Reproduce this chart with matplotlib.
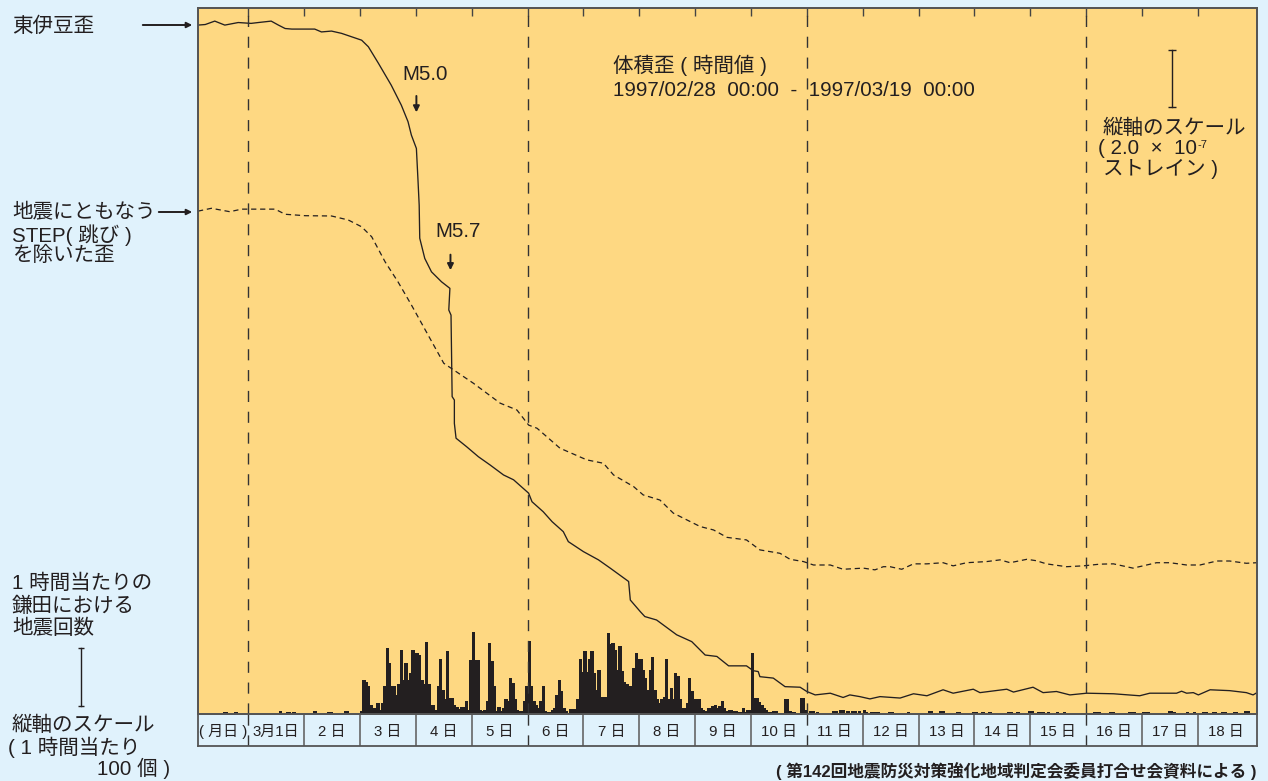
import numpy as np
import matplotlib
matplotlib.use("Agg")
import matplotlib.pyplot as plt
from matplotlib import transforms

plt.rcParams['font.family'] = ['Liberation Sans', 'Noto Sans CJK JP', 'DejaVu Sans']

W, H = 1268, 781
BG = '#e0f2fc'
PLOT_BG = '#fed882'
INK = '#231f20'
FRAME = '#555555'
FS = 14.8

# time axis: days since 1997/02/28 00:00, strain in units of 1e-7
izu_day = [0.10, 0.23, 0.40, 0.58, 0.82, 1.05, 1.18, 1.41, 1.54, 1.66, 1.78, 2.19,
           2.31, 2.49, 2.67, 2.85, 3.03, 3.15, 3.33, 3.56, 3.74, 3.86, 3.92, 4.01,
           4.04, 4.06, 4.07, 4.16, 4.28, 4.46, 4.61, 4.59, 4.63, 4.65, 4.69, 4.69,
           4.72, 4.91, 5.12, 5.33, 5.57, 5.75, 6.02, 6.08, 6.28, 6.44, 6.64, 6.73,
           7.00, 7.27, 7.48, 7.81, 7.84, 8.02, 8.10, 8.31, 8.67, 8.94, 9.18, 9.39,
           9.60, 9.92, 10.04, 10.13, 10.16, 10.40, 10.61, 10.88, 11.00, 11.15, 11.42,
           11.65, 11.77, 11.95, 12.13, 12.31, 12.67, 12.91, 13.15, 13.44, 13.62,
           13.98, 14.10, 14.58, 14.70, 15.05, 15.23, 15.47, 15.71, 16.01, 16.49,
           16.96, 17.14, 17.62, 17.71, 17.80, 17.92, 18.01, 18.22, 18.57, 18.87,
           18.99, 19.06]
izu_strain = [0.00, 0.02, 0.14, 0.00, 0.09, 0.06, 0.09, 0.14, 0.00, -0.12, -0.14, -0.14,
              -0.24, -0.21, -0.29, -0.41, -0.53, -0.76, -1.34, -2.11, -2.81, -3.39, -3.86, -4.33,
              -5.50, -6.32, -7.48, -8.19, -8.66, -9.01, -9.24, -10.00, -10.18, -13.04, -13.16, -13.98,
              -14.50, -14.80, -15.15, -15.44, -15.79, -15.96, -16.43, -16.73, -17.08, -17.43, -17.78, -18.13,
              -18.48, -18.77, -19.06, -19.53, -20.18, -20.59, -20.76, -20.88, -21.40, -21.64, -22.11, -22.16,
              -22.49, -22.49, -22.66, -22.69, -22.87, -22.92, -23.22, -23.24, -23.39, -23.51, -23.45,
              -23.60, -23.51, -23.57, -23.65, -23.57, -23.62, -23.47, -23.54, -23.33, -23.45,
              -23.31, -23.43, -23.31, -23.41, -23.24, -23.43, -23.39, -23.51, -23.45, -23.47,
              -23.54, -23.45, -23.45, -23.38, -23.45, -23.43, -23.51, -23.33, -23.36, -23.43,
              -23.51, -23.43]

# strain with the earthquake steps removed
step_free_day = [0.10, 0.34, 0.67, 0.88, 1.06, 1.48, 1.66, 2.02, 2.49, 2.79, 3.03, 3.21,
                 3.45, 3.68, 3.92, 4.50, 5.03, 5.51, 5.81, 6.02, 6.17, 6.58, 7.06, 7.36,
                 7.54, 7.90, 8.07, 8.37, 8.61, 9.09, 9.33, 9.57, 9.92, 10.16, 10.52, 10.70,
                 10.94, 11.12, 11.42, 11.65, 12.01, 12.22, 12.37, 12.49, 12.70, 12.91, 13.15,
                 13.44, 13.62, 13.86, 14.22, 14.46, 14.64, 14.94, 15.11, 15.29, 15.65, 15.95,
                 16.25, 16.49, 16.84, 17.02, 17.26, 17.50, 17.80, 18.04, 18.34, 18.57, 18.87,
                 19.06]
step_free_strain = [-6.53, -6.43, -6.55, -6.46, -6.46, -6.46, -6.64, -6.69, -6.70, -6.84, -7.08, -7.43,
                    -8.31, -9.01, -9.82, -11.87, -12.57, -13.27, -13.51, -14.04, -14.15, -14.85, -15.26, -15.38,
                    -15.79, -16.20, -16.49, -16.67, -17.13, -17.60, -17.72, -17.98, -18.07, -18.42, -18.54, -18.75,
                    -18.83, -18.95, -18.95, -19.10, -19.06, -19.12, -19.01, -19.01, -19.10, -18.91, -18.91,
                    -18.87, -18.98, -18.87, -18.83, -18.77, -18.87, -18.75, -18.80, -18.91, -19.01, -18.98,
                    -18.92, -18.91, -19.06, -18.98, -18.87, -18.87, -18.95, -18.95, -18.81, -18.81, -18.89,
                    -18.87]

# hourly earthquake counts at Kamata, 3/3 - 3/10 (hour 0..23)
mar03 = [6, 59, 56, 48, 16, 10, 10, 19, 7, 19, 48, 114, 88, 48, 48, 33, 51, 110, 59, 88, 59, 71, 111, 105]
mar04 = [105, 102, 59, 51, 124, 51, 16, 16, 7, 48, 95, 42, 25, 108, 28, 28, 16, 12, 9, 12, 12, 22, 7, 93]
mar05 = [142, 93, 93, 7, 5, 7, 22, 122, 91, 48, 6, 12, 5, 10, 25, 22, 62, 53, 25, 7, 5, 5, 22, 48]
mar06 = [125, 48, 22, 16, 10, 22, 48, 5, 3, 3, 7, 10, 33, 59, 39, 10, 6, 2, 9, 9, 9, 25, 94, 72]
mar07 = [108, 72, 94, 108, 71, 42, 76, 30, 30, 30, 140, 120, 122, 111, 76, 117, 74, 56, 51, 48, 48, 79, 105, 94]
mar08 = [94, 76, 62, 42, 76, 98, 42, 25, 19, 25, 30, 94, 25, 45, 25, 71, 65, 25, 10, 10, 19, 62, 39, 25]
mar09 = [25, 25, 10, 7, 5, 10, 10, 13, 16, 10, 13, 22, 10, 5, 7, 7, 5, 5, 3, 3, 10, 3, 7, 7]
mar10 = [105, 28, 28, 21, 16, 10, 7, 3, 3, 5, 5, 2, 2, 2, 26, 26, 5, 3, 3, 2, 2, 28, 28, 7]
busy_days = [3, 4, 5, 6, 7, 8, 9, 10]

# quieter hours elsewhere: (hours since 2/28 00:00, count)
quiet_hours = [(13, 3), (14, 3), (18, 3), (37, 5), (40, 3), (41, 3), (43, 4), (52, 6), (58, 4),
               (59, 4), (65, 6), (66, 6),
               (265, 6), (266, 6), (268, 3), (275, 5), (276, 5), (278, 7), (279, 7), (281, 5),
               (283, 5), (284, 5), (286, 6), (288, 7), (289, 3), (291, 4), (292, 4), (293, 4),
               (294, 4), (299, 4), (300, 4), (307, 3), (316, 5), (317, 5), (321, 5), (322, 5),
               (328, 3), (329, 3), (335, 3), (336, 3), (339, 3), (342, 4), (350, 4), (351, 4),
               (354, 3), (359, 6), (360, 6), (363, 3), (364, 3), (365, 3), (367, 3), (371, 4),
               (374, 4), (382, 2), (383, 2), (384, 2), (387, 3), (388, 3), (389, 3), (394, 4),
               (395, 4), (402, 3), (403, 3), (404, 3), (408, 3), (409, 3), (410, 3), (419, 5),
               (420, 5), (421, 3), (427, 4), (430, 3), (434, 3), (435, 3), (438, 3), (439, 3),
               (442, 3), (443, 3), (447, 3), (448, 3), (452, 6), (453, 6)]

date_labels = ['( 月日 )', '3月1日', '2 日', '3 日', '4 日', '5 日', '6 日', '7 日', '8 日',
               '9 日', '10 日', '11 日', '12 日', '13 日', '14 日', '15 日', '16 日', '17 日', '18 日']

counts = np.zeros(19 * 24)
for hour, c in quiet_hours:
    counts[hour] = c
for d, day_counts in zip(busy_days, [mar03, mar04, mar05, mar06, mar07, mar08, mar09, mar10]):
    counts[d * 24:(d + 1) * 24] = day_counts


def fpx(x, y):
    return x / W, 1 - y / H


fig = plt.figure(figsize=(W / 100, H / 100), dpi=100, facecolor=BG)

x0, x1 = 198, 1257
top, base, row_bot = 8, 714, 746
rect = [x0 / W, 1 - base / H, (x1 - x0) / W, (base - top) / H]
XLIM = (0.1, 19.06)

ax = fig.add_axes(rect)
axc = ax.twinx()
ax.set_zorder(2)
axc.set_zorder(1)
ax.patch.set_visible(False)
axc.patch.set_visible(True)
axc.patch.set_facecolor(PLOT_BG)

ax.set_xlim(*XLIM)
ax.set_ylim(-24.18, 0.60)
axc.set_ylim(0, 1217)

# hourly counts as bars
hours = np.arange(counts.size) / 24
axc.bar(hours, counts, width=1 / 24, align='edge', color=INK, edgecolor=INK,
        linewidth=0.4, antialiased=False)

# strain curves
ax.plot(izu_day, izu_strain, color=INK, lw=0.95)
ax.plot(step_free_day, step_free_strain, color=INK, lw=0.9, linestyle=(0, (4.2, 3.0)))

for d in (1, 6, 11, 16):
    ax.axvline(d, color='#333333', lw=1.0, linestyle=(0, (8, 7)))

ax.xaxis.set_ticks_position('top')
ax.set_xticks(range(1, 19))
ax.tick_params(axis='x', direction='in', length=6, width=1.0, color='#444444',
               labeltop=False, labelbottom=False)
ax.set_yticks([])
axc.set_yticks([])
for a in (ax, axc):
    for s in a.spines.values():
        s.set_color(FRAME)
        s.set_linewidth(1.3)

# event arrows
ax.text(4.17, -1.75, 'M5.0', fontsize=FS, ha='center', va='center', color=INK)
ax.annotate('', xy=(4.01, -3.16), xytext=(4.01, -2.39),
            arrowprops=dict(arrowstyle='-|>', color=INK, lw=1.4, mutation_scale=9))
ax.text(4.76, -7.26, 'M5.7', fontsize=FS, ha='center', va='center', color=INK)
ax.annotate('', xy=(4.62, -8.70), xytext=(4.62, -7.96),
            arrowprops=dict(arrowstyle='-|>', color=INK, lw=1.4, mutation_scale=9))

ax.text(7.53, -1.40, '体積歪 ( 時間値 )', fontsize=FS, ha='left', va='center', color=INK)
ax.text(7.53, -2.28, '1997/02/28  00:00  -  1997/03/19  00:00', fontsize=FS,
        ha='left', va='center', color=INK)

# strain scale bar: 2.0 x 1e-7
ax.plot([17.54, 17.54], [-0.88, -2.88], color=INK, lw=1.0, marker='_', ms=6, mew=1.0)
fig.text(*fpx(1103, 128), '縦軸のスケール', fontsize=FS, va='center', color=INK)
t = fig.text(*fpx(1098, 149), '( 2.0  ×  10', fontsize=FS, va='center', color=INK)
fig.text(*fpx(1103, 169), 'ストレイン )', fontsize=FS, va='center', color=INK)
ax.annotate('-7', xy=(1, 0.95), xycoords=t, fontsize=8, va='top', ha='left', color=INK)

# date row
axd = fig.add_axes([x0 / W, 1 - row_bot / H, (x1 - x0) / W, (row_bot - base) / H])
axd.set_facecolor(BG)
axd.set_xlim(*XLIM)
axd.set_ylim(0, 1)
axd.set_xticks([])
axd.set_yticks([])
axd.spines['top'].set_visible(False)
for s in ('left', 'right', 'bottom'):
    axd.spines[s].set_color(FRAME)
    axd.spines[s].set_linewidth(1.3)
for d in range(2, 19):
    if d % 5 == 1:
        continue
    axd.axvline(d, color='#666666', lw=1.2)
for d in (1, 6, 11, 16):
    axd.axvline(d, color='#333333', lw=1.0, linestyle=(0, (8, 7)))
for i, lab in enumerate(date_labels):
    axd.text(i + 0.5 + (0.05 if i == 0 else 0), 0.45, lab, fontsize=10.8,
             ha='center', va='center', color=INK)

# left-hand labels
fig.text(*fpx(12, 26), '東伊豆歪', fontsize=FS, va='center', color=INK)
fig.text(*fpx(12, 213), '地震にともなう', fontsize=FS, va='center', color=INK)
fig.text(*fpx(12, 235), 'STEP( 跳び )', fontsize=FS, va='center', color=INK)
fig.text(*fpx(12, 255), 'を除いた歪', fontsize=FS, va='center', color=INK)
for y0, tail in ((25, 140), (212, 156)):
    ax.annotate('', xy=fpx(195, y0), xycoords='figure fraction',
                xytext=fpx(tail, y0), textcoords='figure fraction',
                arrowprops=dict(arrowstyle='-|>', color=INK, lw=1.4, mutation_scale=8))

fig.text(*fpx(12, 583), '1 時間当たりの', fontsize=FS, va='center', color=INK)
fig.text(*fpx(12, 606), '鎌田における', fontsize=FS, va='center', color=INK)
fig.text(*fpx(12, 628), '地震回数', fontsize=FS, va='center', color=INK)
fig.text(*fpx(12, 725), '縦軸のスケール', fontsize=FS, va='center', color=INK)
fig.text(*fpx(8, 747), '( 1 時間当たり', fontsize=FS, va='center', color=INK)
fig.text(*fpx(97, 768), '100 個 )', fontsize=FS, va='center', color=INK)

# count scale bar: 100 per hour
blend = transforms.blended_transform_factory(fig.transFigure, axc.transData)
axc.plot([81 / W, 81 / W], [14, 114], transform=blend, clip_on=False,
         color=INK, lw=1.0, marker='_', ms=5, mew=1.0)

fig.text(*fpx(1256, 771), '( 第142回地震防災対策強化地域判定会委員打合せ会資料による )',
         fontsize=12, fontweight='bold', ha='right', va='center', color=INK)

fig.savefig('out.png', dpi=100, facecolor=BG)
